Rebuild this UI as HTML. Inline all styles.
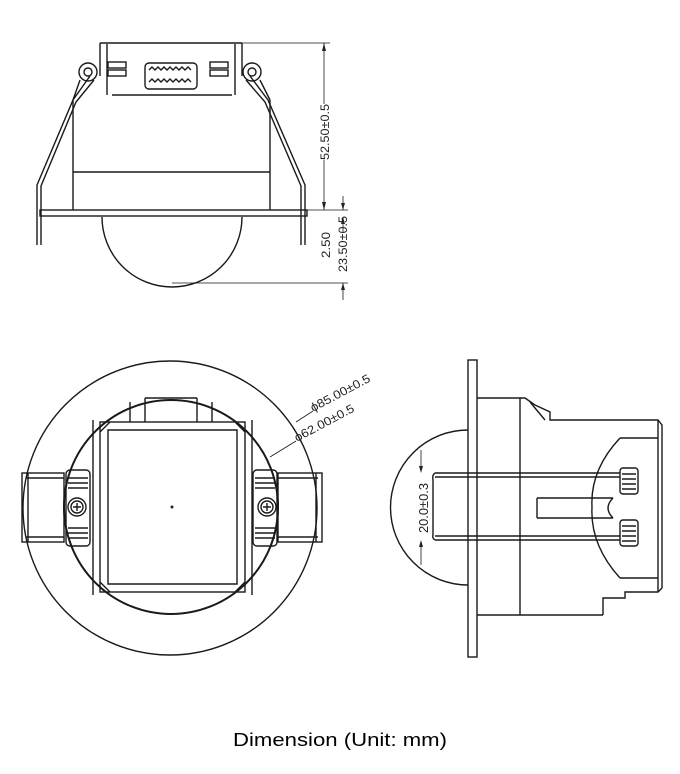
<!DOCTYPE html>
<html><head><style>
html,body{margin:0;padding:0;background:#fff;}
svg{display:block}
text{font-family:"Liberation Sans",sans-serif;fill:#222}
</style></head><body>
<svg width="680" height="774" viewBox="0 0 680 774" xmlns="http://www.w3.org/2000/svg">
<g fill="none" stroke="#1a1a1a" stroke-width="1.4">
<!-- TOP VIEW -->
<path d="M100 43 H242 M100 43 V76 M242 43 V76 M107 44 V95 M235 44 V95"/>
<path d="M112 95 H232"/>
<rect x="108" y="62" width="18" height="6"/><rect x="108" y="70" width="18" height="6"/>
<rect x="210" y="62" width="18" height="6"/><rect x="210" y="70" width="18" height="6"/>
<rect x="145" y="63" width="52" height="26" rx="4"/>
<path d="M149 70 l3 -3 l3 3 l3 -3 l3 3 l3 -3 l3 3 l3 -3 l3 3 l3 -3 l3 3 l3 -3 l3 3 l3 -3 l3 3 M149 82 l3 -3 l3 3 l3 -3 l3 3 l3 -3 l3 3 l3 -3 l3 3 l3 -3 l3 3 l3 -3 l3 3 l3 -3 l3 3"/>
<circle cx="88" cy="72" r="9"/><circle cx="88" cy="72" r="4"/>
<circle cx="252" cy="72" r="9"/><circle cx="252" cy="72" r="4"/>
<path d="M73 100 V210 M270 100 V210 M73 172 H270"/>
<path d="M80 80 L73 100 M260 80 L270 100"/>
<rect x="40" y="210" width="267" height="6"/>
<path d="M90 76 L73 100 L37 185 V245 M94 80 L76 102 L41 186 V245"/>
<path d="M250 76 L268 100 L305 185 V245 M246 80 L265 102 L301 186 V245"/>
<path d="M102 217 A70 70 0 0 0 242 217"/>
<!-- dims -->
<path d="M242 43 H330 M307 210 H348 M172 283 H348" stroke-width="0.8"/>
<path d="M324 43 V210" stroke-width="0.8"/>
<path d="M343 196 V210 M343 283 V300 M343 217 V232" stroke-width="0.8"/>
</g>
<g fill="#222"><path d="M324 43 l-2 8 h4z M324 210 l-2 -8 h4z M343 210 l-2 -7 h4z M343 217 l-2 7 h4z M343 283 l-2 7 h4z"/></g>
<rect x="317" y="104" width="14" height="56" fill="#fff"/>
<text transform="translate(329,160) rotate(-90)" font-size="12" textLength="56" lengthAdjust="spacingAndGlyphs">52.50±0.5</text>
<text transform="translate(330,258) rotate(-90)" font-size="12" textLength="26" lengthAdjust="spacingAndGlyphs">2.50</text>
<text transform="translate(347,272) rotate(-90)" font-size="12" textLength="56" lengthAdjust="spacingAndGlyphs">23.50±0.5</text>

<!-- BOTTOM LEFT -->
<g fill="none" stroke="#1a1a1a" stroke-width="1.4">
<circle cx="170" cy="508" r="147"/>
<circle cx="171" cy="507" r="107" stroke-width="2"/>
<rect x="100" y="422" width="145" height="170"/>
<path d="M108 430 H237 V584 H108Z M93 420 V595 M252 420 V595 M110 422 L100 432 M235 422 L245 432 M110 592 L100 582 M235 592 L245 582"/>
<path d="M130 402 V422 M145 398 V422 M197 398 V422 M212 402 V422 M145 398 H197"/>
<rect x="22" y="473" width="42" height="69"/><path d="M26 478 H64 M26 537 H64 M28 473 V542"/>
<rect x="278" y="473" width="44" height="69"/><path d="M278 478 H318 M278 537 H318 M316 473 V542"/>
<rect x="66" y="470" width="24" height="76" rx="4"/>
<rect x="253" y="470" width="24" height="76" rx="4"/>
<path d="M68 478 h20 M68 483 h20 M68 488 h20 M68 528 h20 M68 533 h20 M68 538 h20 M255 478 h20 M255 483 h20 M255 488 h20 M255 528 h20 M255 533 h20 M255 538 h20"/>
<circle cx="77" cy="507" r="9"/><circle cx="77" cy="507" r="6"/>
<circle cx="267" cy="507" r="9"/><circle cx="267" cy="507" r="6"/>
<path d="M73 507 h8 M77 503 v8 M263 507 h8 M267 503 v8"/>
<path d="M296 422 L313 411 M270 457 L296 441" stroke-width="0.8"/>
</g>
<circle cx="172" cy="507" r="1.5" fill="#222"/>
<text transform="translate(313,412) rotate(-28)" font-size="12" textLength="66" lengthAdjust="spacingAndGlyphs">ϕ85.00±0.5</text>
<text transform="translate(297,442) rotate(-28)" font-size="12" textLength="66" lengthAdjust="spacingAndGlyphs">ϕ62.00±0.5</text>

<!-- RIGHT VIEW -->
<g fill="none" stroke="#1a1a1a" stroke-width="1.4">
<rect x="468" y="360" width="9" height="297"/>
<path d="M468 430 A77 77 0 0 0 468 585"/>
<path d="M477 398 H520 M477 615 H603 M520 398 V615"/>
<path d="M520 398 H525 L535 405 L550 412 V420 H658 L662 425 V588 L658 592 H625 V598 H603 V615"/>
<path d="M530 402 L545 420 M658 420 V592"/>
<path d="M620 438 Q590 470 592 507 Q590 545 620 578 M620 438 H658 M620 578 H658"/>
<path d="M435 473 H620 M435 477 H620 M435 536 H620 M435 540 H620 M435 473 Q432 475 433 480 V535 Q432 538 435 540"/>
<path d="M537 498 H613 M537 518 H613 M537 498 V518 M613 498 Q603 508 613 518"/>
<rect x="620" y="468" width="18" height="26" rx="3"/><rect x="620" y="520" width="18" height="26" rx="3"/>
<path d="M622 474 h14 M622 479 h14 M622 484 h14 M622 489 h14 M622 526 h14 M622 531 h14 M622 536 h14 M622 541 h14"/>
<path d="M421 450 V468 M421 545 V565" stroke-width="0.8"/>
</g>
<path fill="#222" d="M421 473 l-2 -7 h4z M421 540 l-2 7 h4z"/>
<text transform="translate(428,533) rotate(-90)" font-size="13" textLength="50" lengthAdjust="spacingAndGlyphs">20.0±0.3</text>

<text x="340" y="746" font-size="18" text-anchor="middle" textLength="214" lengthAdjust="spacingAndGlyphs" style="fill:#000">Dimension (Unit: mm)</text>
</svg>
</body></html>
